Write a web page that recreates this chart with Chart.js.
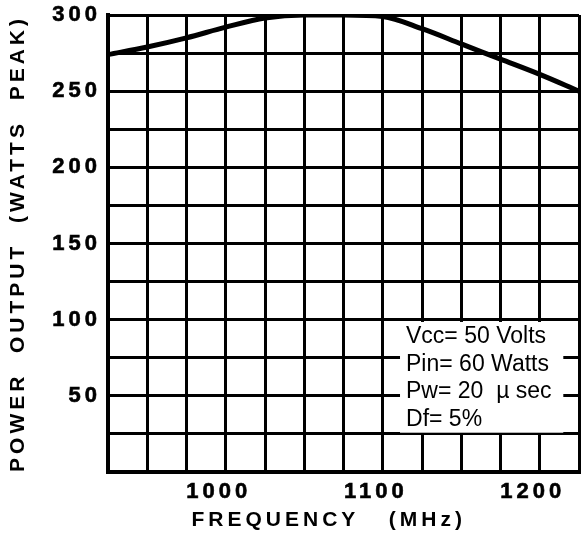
<!DOCTYPE html>
<html>
<head>
<meta charset="utf-8">
<script src="https://cdn.jsdelivr.net/npm/chart.js@4"></script>
<style>
  html,body{margin:0;padding:0;background:#fff;}
  canvas{display:block;}
</style>
</head>
<body>
<canvas id="chart" width="581" height="538"></canvas>
<script>
// frequency (MHz) and power output (W peak)
const freq = [925, 950, 975, 1000, 1025, 1050, 1075, 1100, 1125, 1150, 1175, 1200, 1225];
const power = [274, 279, 285, 292, 298, 300, 300, 299, 291, 281, 271, 261, 250];
const xLabels = [1000, 1100, 1200];
const yLabels = [50, 100, 150, 200, 250, 300];
const notes = ['Vcc= 50 Volts', 'Pin= 60 Watts', 'Pw= 20  \u00b5 sec', 'Df= 5%'];

const titleFont = {family: 'Arial, "Liberation Sans", sans-serif', size: 21, weight: 'bold'};
const tickFont = {family: 'Arial, "Liberation Sans", sans-serif', size: 22, weight: 'bold'};

const spacing = {
  id: 'spacing',
  beforeDraw(chart){ chart.ctx.letterSpacing = '4px'; },
  afterDraw(chart){
    const ctx = chart.ctx;
    ctx.letterSpacing = '0px';
    const x = chart.scales.x, y = chart.scales.y;
    const l = x.getPixelForValue(1111), r = x.getPixelForValue(1215);
    const t = y.getPixelForValue(98.5), b = y.getPixelForValue(25.8);
    ctx.save();
    ctx.fillStyle = '#fff';
    ctx.fillRect(l, t, r - l, b - t);
    ctx.fillStyle = '#000';
    ctx.font = '23px Arial, "Liberation Sans", sans-serif';
    ctx.textBaseline = 'alphabetic';
    notes.forEach((s, i) => ctx.fillText(s, l + 6, t + 21 + i * 27.7));
    ctx.restore();
  }
};

new Chart(document.getElementById('chart'), {
  type: 'line',
  data: {
    labels: freq,
    datasets: [{
      data: freq.map((f, i) => ({x: f, y: power[i]})),
      borderColor: '#000',
      borderWidth: 5,
      pointRadius: 0,
      cubicInterpolationMode: 'monotone',
      fill: false
    }]
  },
  options: {
    responsive: false,
    animation: false,
    layout: {padding: {top: 15, right: 2, left: 0, bottom: 0}},
    plugins: {legend: {display: false}, tooltip: {enabled: false}},
    scales: {
      x: {
        type: 'linear', min: 925, max: 1225,
        afterFit: s => { s.height = 66; s.paddingLeft = 0; s.paddingRight = 0; },
        grid: {color: '#000', lineWidth: 3, drawTicks: false},
        border: {color: '#000', width: 4},
        ticks: {
          stepSize: 25, autoSkip: false, maxRotation: 0, padding: 7, labelOffset: -7,
          color: '#000', font: tickFont, textStrokeColor: '#000', textStrokeWidth: 0.6,
          callback: v => xLabels.includes(v) ? String(v) : ''
        },
        title: {display: true, text: 'FREQUENCY   (MHz)   ', color: '#000', font: titleFont, padding: {top: 0, bottom: 5}}
      },
      y: {
        min: 0, max: 300,
        afterFit: s => { s.width = 108; s.paddingTop = 0; s.paddingBottom = 0; },
        grid: {color: '#000', lineWidth: 3, drawTicks: false},
        border: {color: '#000', width: 4},
        ticks: {
          stepSize: 25, autoSkip: false, padding: 7,
          color: '#000', font: tickFont, textStrokeColor: '#000', textStrokeWidth: 0.6,
          callback: v => yLabels.includes(v) ? String(v) : ''
        },
        title: {display: true, text: 'POWER  OUTPUT  (WATTS  PEAK)', color: '#000', font: titleFont, padding: {top: 6, bottom: 0}}
      }
    }
  },
  plugins: [spacing]
});
</script>
</body>
</html>
